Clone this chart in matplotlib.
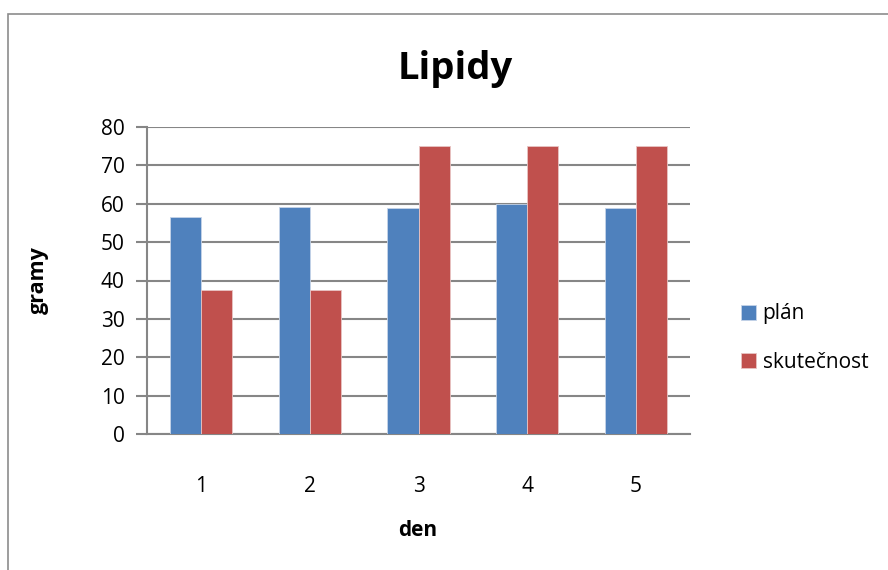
import numpy as np
import matplotlib.pyplot as plt
from matplotlib.patches import Rectangle

days = ['1', '2', '3', '4', '5']
plan = [56.5, 59.2, 59.0, 60.0, 58.9]
actual = [37.4, 37.4, 75.0, 75.0, 75.0]
series_names = ['plán', 'skutečnost']
yticks = [0, 10, 20, 30, 40, 50, 60, 70, 80]

blue = '#4F81BD'
red = '#C0504D'
grid_col = '#868686'

plt.rcParams['font.family'] = ['Open Sans', 'DejaVu Sans']

fig = plt.figure(figsize=(8.88, 5.7), dpi=100)
fig.patch.set_facecolor('white')

# chart frame
fig.patches.append(Rectangle((8 / 888, -0.05), 1.0, 1 - 14 / 570 + 0.05,
                             transform=fig.transFigure, fill=False,
                             edgecolor='#8c8c8c', linewidth=1.2))

ax = fig.add_axes([147 / 888, 1 - 434 / 570, (690 - 147) / 888, (434 - 127) / 570])

x = np.arange(len(days))
w = 1 / 3.5
ax.bar(x - w / 2, plan, w, color=blue, edgecolor='#c6d4e8', linewidth=0.6,
       label=series_names[0], zorder=3)
ax.bar(x + w / 2, actual, w, color=red, edgecolor='#e8c4c3', linewidth=0.6,
       label=series_names[1], zorder=3)

ax.set_xlim(-0.5, len(days) - 0.5)
ax.set_ylim(0, 80)
ax.set_yticks(yticks)
ax.set_xticks(x)
ax.set_xticklabels(days)
ax.yaxis.grid(True, color=grid_col, linewidth=1.5, zorder=0)

for s in ['top', 'right']:
    ax.spines[s].set_visible(False)
ax.spines['left'].set_color(grid_col)
ax.spines['left'].set_linewidth(1.5)
ax.spines['bottom'].set_color(grid_col)
ax.spines['bottom'].set_linewidth(1.5)
ax.tick_params(axis='y', length=8, width=1.5, color=grid_col, labelsize=15, pad=8)
ax.tick_params(axis='x', length=0, labelsize=15, pad=30)

fig.text(455 / 888, 1 - 69 / 570, 'Lipidy', fontsize=27.5, fontweight='bold',
         ha='center', va='center')
fig.text(38 / 888, 1 - 280 / 570, 'gramy', fontsize=15.5, fontweight='bold',
         rotation=90, ha='center', va='center')
fig.text(418 / 888, 1 - 530 / 570, 'den', fontsize=15, fontweight='bold',
         ha='center', va='center')

fig.legend(loc='center left', bbox_to_anchor=(722 / 888, 1 - 338 / 570),
           frameon=False, fontsize=15, handlelength=0.75, handleheight=0.75,
           handletextpad=0.3, labelspacing=1.3)

fig.savefig('out.png', dpi=100)
